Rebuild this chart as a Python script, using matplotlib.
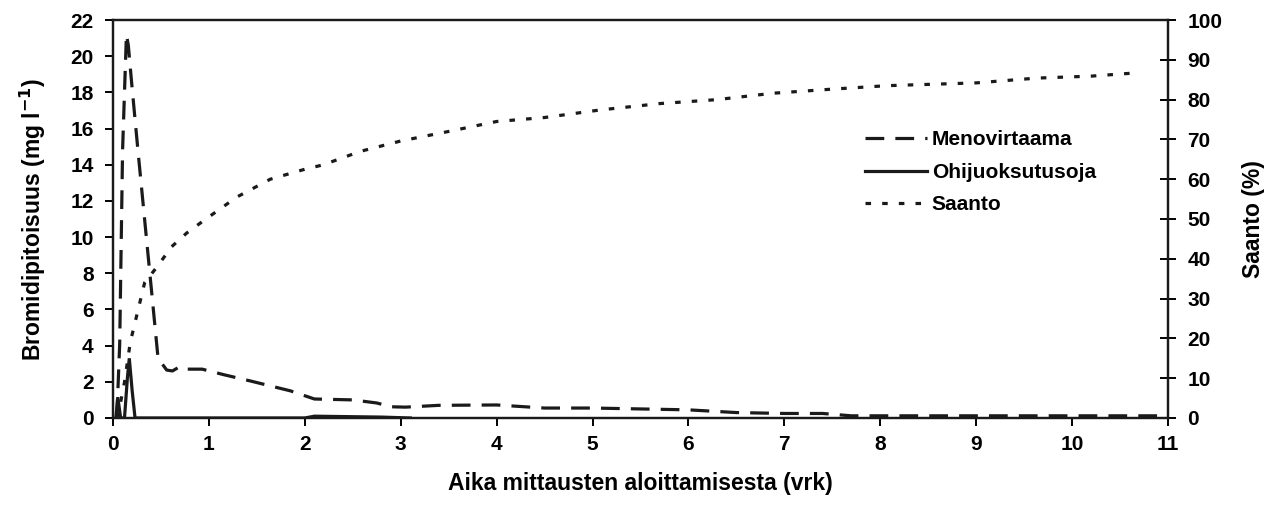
import matplotlib
matplotlib.use("Agg")
import matplotlib.pyplot as plt

# ── data ─────────────────────────────────────────────────────────────────────
meno_x = [0.04, 0.07, 0.10, 0.14, 0.16, 0.195, 0.26, 0.47, 0.56, 0.62, 0.70,
          0.77, 0.93, 1.15, 1.43, 1.85, 2.10, 2.50, 2.75, 2.90, 3.05, 3.40,
          4.00, 4.50, 5.00, 5.50, 6.00, 6.50, 7.00, 7.40, 7.70, 8.50, 9.50,
          10.50, 10.95]
meno_y = [0.0, 4.1, 14.8, 21.2, 20.6, 18.5, 14.8, 3.3, 2.65, 2.6, 2.85,
          2.7, 2.7, 2.4, 2.05, 1.5, 1.05, 1.0, 0.83, 0.62, 0.6, 0.7,
          0.72, 0.55, 0.55, 0.5, 0.45, 0.3, 0.25, 0.25, 0.12, 0.12, 0.12,
          0.12, 0.12]

ohi_x = [0.03, 0.05, 0.08, 0.12, 0.15, 0.17, 0.20, 0.23, 2.00, 2.10, 2.80, 3.10]
ohi_y = [0.0, 1.15, 0.0, 0.0, 2.2, 3.3, 1.5, 0.0, 0.0, 0.1, 0.05, 0.0]

saanto_x = [0.04, 0.08, 0.12, 0.18, 0.25, 0.33, 0.46, 0.61, 0.77, 0.94,
            1.29, 1.64, 2.00, 2.19, 2.58, 3.00, 3.50, 4.00, 4.50, 5.08,
            5.70, 6.30, 6.88, 7.48, 8.07, 9.00, 9.63, 10.20, 10.66]
saanto_y = [0.0, 4.0, 9.0, 19.0, 26.0, 34.0, 38.0, 43.0, 46.5, 49.5,
            55.5, 60.0, 62.5, 63.6, 67.0, 69.6, 72.0, 74.5, 75.5, 77.4,
            79.0, 80.0, 81.6, 82.6, 83.5, 84.2, 85.4, 85.9, 86.7]

x_ticks = list(range(0, 12))
left_ticks = list(range(0, 23, 2))
right_ticks = list(range(0, 101, 10))

plt.rcParams.update({
    "font.family": ["Liberation Sans", "DejaVu Sans"],
    "font.weight": "bold",
    "font.size": 15,
    "lines.scale_dashes": False,
})

fig = plt.figure(figsize=(12.81, 5.13), dpi=100)
ax = fig.add_axes([0.0882, 0.1852, 0.8236, 0.7758])
ax2 = ax.twinx()

lw = 2.3
l1, = ax.plot(meno_x, meno_y, color="#1a1a1a", lw=lw, dashes=(13.5, 8),
              label="Menovirtaama")
l2, = ax.plot(ohi_x, ohi_y, color="#1a1a1a", lw=lw, solid_joinstyle="miter",
              label="Ohijuoksutusoja")
l3, = ax2.plot(saanto_x, saanto_y, color="#1a1a1a", lw=lw, dashes=(4, 8),
               label="Saanto")

ax.set_xlim(0, 11)
ax.set_ylim(0, 22)
ax2.set_ylim(0, 100)
ax.set_xticks(x_ticks)
ax.set_yticks(left_ticks)
ax2.set_yticks(right_ticks)

for a in (ax, ax2):
    for s in a.spines.values():
        s.set_linewidth(1.6)
        s.set_color("#1a1a1a")
ax.tick_params(axis="x", direction="out", length=6, width=1.4, pad=6,
               labelsize=15)
ax.tick_params(axis="y", direction="out", length=6, width=1.4, pad=8,
               labelsize=15)
ax2.tick_params(axis="y", direction="inout", length=12, width=1.4, pad=8,
                labelsize=15)

ax.set_xlabel("Aika mittausten aloittamisesta (vrk)", fontsize=16.5,
              fontweight="bold", labelpad=13)
ax.set_ylabel("Bromidipitoisuus (mg l$^{\\mathbf{-1}}$)", fontsize=16.5,
              fontweight="bold", labelpad=16)
ax2.set_ylabel("Saanto (%)", fontsize=16.5, fontweight="bold", labelpad=14,
               rotation=90)

ax2.legend(handles=[l1, l2, l3], loc="upper left",
           bbox_to_anchor=(0.695, 0.77), frameon=False, fontsize=15,
           handlelength=3.0, handletextpad=0.2, labelspacing=0.65)

fig.savefig("out.png", dpi=100)
